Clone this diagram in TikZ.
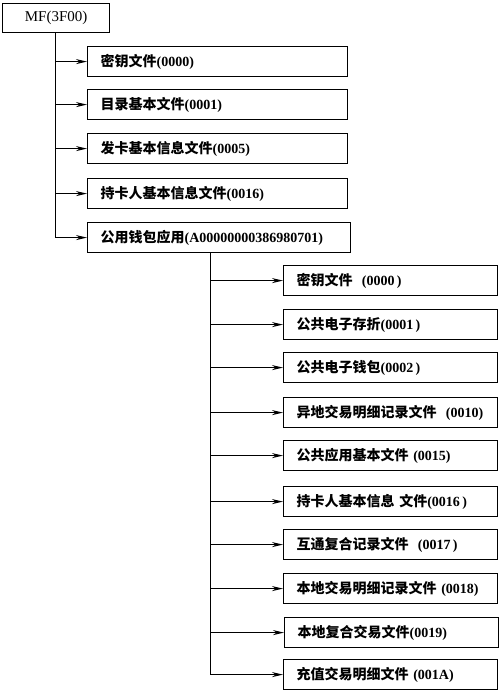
\documentclass[tikz,border=0pt]{standalone}
\usepackage{fontspec}
\setmainfont{Liberation Serif}
\newfontfamily\cjk{Noto Sans CJK SC}
\newcommand{\zh}[1]{{\cjk #1}}
\usetikzlibrary{arrows.meta}
\begin{document}
\begin{tikzpicture}[x=1pt,y=-1pt,
  every node/.style={font=\fontsize{14}{16}\selectfont\bfseries},
  box/.style={draw,line width=1.2pt,anchor=north west,minimum height=30pt,inner xsep=13pt,inner ysep=0pt,align=left},
  lvone/.style={box,text width=234pt},
  lvtwo/.style={box,text width=188pt},
  conn/.style={line width=1pt},
  arr/.style={conn,-{Stealth[length=11pt,width=5pt]}}]
\useasboundingbox (0,0) rectangle (500,692);
\node[draw,line width=1.2pt,anchor=north west,minimum width=107pt,minimum height=29pt,inner sep=0pt,font=\fontsize{15}{17}\selectfont] (mf) at (2,3) {MF(3F00)};
% level 1
\node[lvone] (a1) at (87,46) {\zh{密钥文件}(0000)};
\node[lvone] (a2) at (87,89) {\zh{目录基本文件}(0001)};
\node[lvone] (a3) at (87,133) {\zh{发卡基本信息文件}(0005)};
\node[lvone] (a4) at (87,178) {\zh{持卡人基本信息文件}(0016)};
\node[box,text width=237pt] (a5) at (87,222) {\zh{公用钱包应用}(A00000000386980701)};
% level 2
\node[lvtwo] (b1) at (283,265) {\zh{密钥文件}\ \ (0000\,)};
\node[lvtwo] (b2) at (283,309) {\zh{公共电子存折}(0001\,)};
\node[lvtwo] (b3) at (283,352) {\zh{公共电子钱包}(0002\,)};
\node[lvtwo] (b4) at (283,397) {\zh{异地交易明细记录文件}\ \ (0010)};
\node[lvtwo] (b5) at (283,440) {\zh{公共应用基本文件}\ (0015)};
\node[lvtwo] (b6) at (283,486) {\zh{持卡人基本信息 文件}(0016\,)};
\node[lvtwo] (b7) at (283,529) {\zh{互通复合记录文件}\ \ (0017\,)};
\node[lvtwo] (b8) at (283,573) {\zh{本地交易明细记录文件}\ (0018)};
\node[lvtwo] (b9) at (284,617) {\zh{本地复合交易文件}(0019)};
\node[lvtwo] (b10) at (283,659) {\zh{充值交易明细文件}\ (001A)};
% trunk 1
\coordinate (t1) at ([xshift=-1pt]mf.south);
\draw[conn] (t1) -- (t1 |- a5.west);
\foreach \n in {a1,a2,a3,a4,a5}
  \draw[arr] (t1 |- \n.west) -- (\n.west);
% trunk 2
\coordinate (t2) at ([xshift=123pt]a5.south west);
\draw[conn] (t2) -- (t2 |- b10.west);
\foreach \n in {b1,b2,b3,b4,b5,b6,b7,b8,b9,b10}
  \draw[arr] (t2 |- \n.west) -- (\n.west);
\end{tikzpicture}
\end{document}
